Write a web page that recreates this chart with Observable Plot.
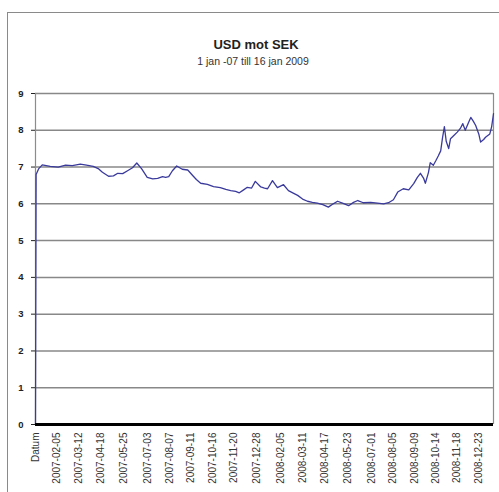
<!DOCTYPE html>
<html><head><meta charset="utf-8">
<script src="https://cdn.jsdelivr.net/npm/d3@7"></script>
<script src="https://cdn.jsdelivr.net/npm/@observablehq/plot@0.6"></script>
<style>
body{margin:0;width:499px;height:492px;overflow:hidden;background:#fff;font-family:"Liberation Sans",Arial,sans-serif;position:relative}
#frame{position:absolute;left:7px;top:12px;width:600px;height:600px;border:1.5px solid #8a8a8a;box-sizing:border-box}
#title{position:absolute;top:37px;left:0;width:512px;text-align:center;font-weight:bold;font-size:13px;color:#222}
#sub{position:absolute;top:55px;left:0;width:506px;text-align:center;font-size:10.5px;color:#333}
#chart{position:absolute;left:0;top:70px}
</style></head>
<body>
<div id="frame"></div>
<div id="title">USD mot SEK</div>
<div id="sub">1 jan -07 till 16 jan 2009</div>
<div id="chart"></div>
<script>
const dates = ["2007-01-01","2007-01-02","2007-01-06","2007-01-12","2007-01-25","2007-02-07","2007-02-19","2007-03-02","2007-03-15","2007-03-25","2007-04-05","2007-04-14","2007-04-20","2007-04-30","2007-05-08","2007-05-15","2007-05-23","2007-05-31","2007-06-08","2007-06-15","2007-06-23","2007-07-02","2007-07-11","2007-07-19","2007-07-27","2007-08-01","2007-08-06","2007-08-12","2007-08-19","2007-08-28","2007-09-06","2007-09-14","2007-09-20","2007-09-27","2007-10-08","2007-10-18","2007-10-29","2007-11-07","2007-11-15","2007-11-23","2007-11-29","2007-12-06","2007-12-12","2007-12-19","2007-12-25","2008-01-03","2008-01-09","2008-01-14","2008-01-22","2008-01-30","2008-02-09","2008-02-17","2008-02-24","2008-03-03","2008-03-11","2008-03-19","2008-03-27","2008-04-04","2008-04-13","2008-04-22","2008-04-30","2008-05-07","2008-05-15","2008-05-25","2008-06-02","2008-06-09","2008-06-18","2008-06-30","2008-07-11","2008-07-21","2008-07-29","2008-08-06","2008-08-13","2008-08-22","2008-08-31","2008-09-08","2008-09-14","2008-09-19","2008-09-24","2008-09-27","2008-10-02","2008-10-05","2008-10-10","2008-10-14","2008-10-18","2008-10-22","2008-10-25","2008-10-28","2008-10-31","2008-11-04","2008-11-07","2008-11-12","2008-11-18","2008-11-23","2008-11-27","2008-12-01","2008-12-06","2008-12-10","2008-12-14","2008-12-18","2008-12-23","2008-12-26","2008-12-31","2009-01-03","2009-01-10","2009-01-13","2009-01-16"];
const usdSek = [0,6.8,6.95,7.06,7.02,7.0,7.05,7.04,7.08,7.05,7.02,6.95,6.86,6.75,6.76,6.83,6.82,6.9,6.98,7.11,6.95,6.72,6.68,6.69,6.74,6.72,6.74,6.9,7.03,6.94,6.92,6.77,6.66,6.56,6.53,6.47,6.44,6.39,6.36,6.34,6.3,6.38,6.45,6.43,6.61,6.46,6.43,6.41,6.63,6.44,6.52,6.36,6.3,6.23,6.13,6.07,6.04,6.02,5.98,5.91,6.0,6.07,6.02,5.95,6.04,6.09,6.03,6.04,6.02,6.0,6.03,6.11,6.32,6.41,6.38,6.55,6.72,6.83,6.7,6.56,6.85,7.12,7.05,7.17,7.3,7.44,7.8,8.1,7.7,7.5,7.77,7.85,7.95,8.05,8.18,8.0,8.2,8.35,8.25,8.13,7.9,7.68,7.75,7.81,7.9,8.1,8.45];
const tickDates = ["2007-01-01","2007-02-05","2007-03-12","2007-04-18","2007-05-25","2007-07-03","2007-08-07","2007-09-11","2007-10-16","2007-11-20","2007-12-28","2008-02-05","2008-03-11","2008-04-17","2008-05-23","2008-07-01","2008-08-05","2008-09-09","2008-10-14","2008-11-18","2008-12-23"];
const tickLabels = ["Datum","2007-02-05","2007-03-12","2007-04-18","2007-05-25","2007-07-03","2007-08-07","2007-09-11","2007-10-16","2007-11-20","2007-12-28","2008-02-05","2008-03-11","2008-04-17","2008-05-23","2008-07-01","2008-08-05","2008-09-09","2008-10-14","2008-11-18","2008-12-23"];
const yTicks = [0,1,2,3,4,5,6,7,8,9];

const parse = d3.utcParse("%Y-%m-%d");
const data = dates.map((d, i) => ({date: parse(d), value: usdSek[i]}));
const tickD = tickDates.map(parse);
const labelMap = new Map(tickD.map((d, i) => [+d, tickLabels[i]]));
const x0 = parse("2007-01-01"), x1 = parse("2009-01-16");

const chart = Plot.plot({
  width: 499, height: 422,
  marginLeft: 35, marginRight: 6, marginTop: 23, marginBottom: 68,
  style: {fontFamily: "'Liberation Sans', Arial, sans-serif", background: "transparent"},
  x: {type: "utc", domain: [x0, x1]},
  y: {domain: [0, 9]},
  marks: [
    Plot.ruleY(yTicks.slice(1), {stroke: "#888", strokeWidth: 1.5}),
    Plot.ruleX([x0, x1], {y1: 0, y2: 9, stroke: "#8c8c8c", strokeWidth: 1.2}),
    Plot.line(data, {x: "date", y: "value", stroke: "#3a3a9c", strokeWidth: 1.3}),
    Plot.ruleY([0], {stroke: "#000", strokeWidth: 3}),
    Plot.axisY({ticks: yTicks, tickSize: 4, tickPadding: 8, fontSize: 9.5, fontWeight: "bold", label: null, color: "#222"}),
    Plot.axisX({ticks: tickD, tickFormat: d => labelMap.get(+d), tickRotate: -90, tickSize: 0, tickPadding: 8, fontSize: 10, label: null, color: "#333"})
  ]
});
document.getElementById("chart").appendChild(chart);
</script>
</body></html>
